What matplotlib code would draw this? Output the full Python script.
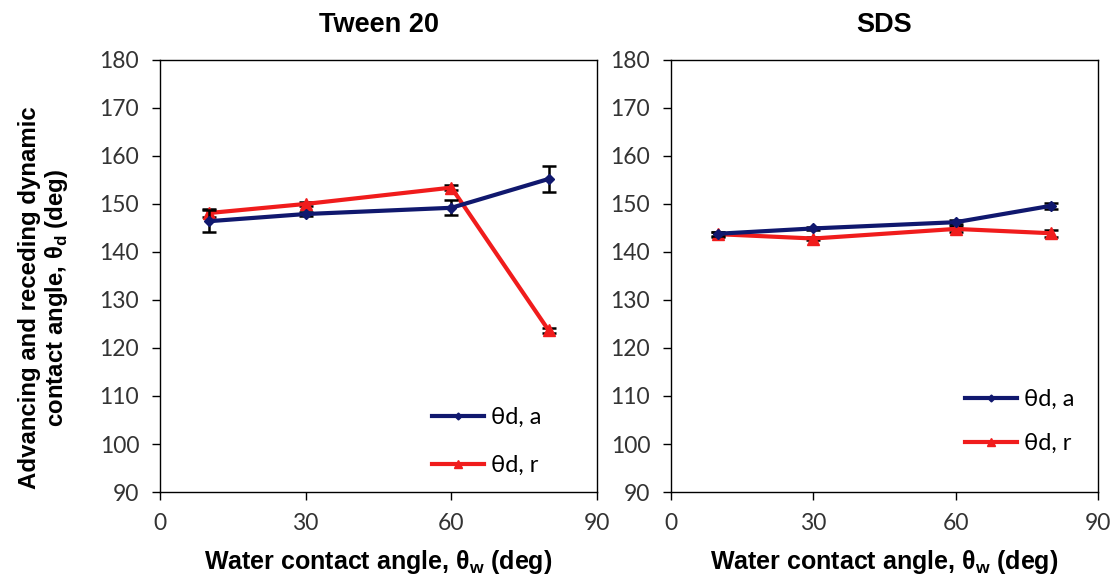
import matplotlib
matplotlib.use("Agg")
import matplotlib.pyplot as plt
from matplotlib.lines import Line2D

# Water contact angle of the surfaces (deg)
water_angle = [10, 30, 60, 80]

# Tween 20: advancing / receding dynamic contact angles and their errors
tween_adv = [146.4, 147.9, 149.2, 155.2]
tween_adv_err = [2.3, 0.5, 1.6, 2.8]
tween_rec = [148.1, 150.0, 153.4, 123.7]
tween_rec_err = [0.9, 0.4, 0.5, 0.5]

# SDS: advancing / receding dynamic contact angles and their errors
sds_adv = [143.8, 144.9, 146.2, 149.6]
sds_adv_err = [0.4, 0.3, 0.4, 0.6]
sds_rec = [143.7, 142.8, 144.8, 143.9]
sds_rec_err = [0.5, 0.4, 0.7, 0.7]

panel_titles = ["Tween 20", "SDS"]
series_labels = ["θd, a", "θd, r"]
x_ticks = [0, 30, 60, 90]
y_ticks = list(range(90, 181, 10))

navy = "#10186e"
red = "#f01c1c"
tick_font = ["Lato", "DejaVu Sans"]
label_font = ["Liberation Sans", "DejaVu Sans"]

fig = plt.figure(figsize=(11.18, 5.8), dpi=100)
ax_l = fig.add_axes([0.1431, 0.1517, 0.391, 0.745])
ax_r = fig.add_axes([0.6002, 0.1517, 0.382, 0.745])

panels = [
    (ax_l, tween_adv, tween_adv_err, tween_rec, tween_rec_err, (0.3864, 0.2983), 1.15),
    (ax_r, sds_adv, sds_adv_err, sds_rec, sds_rec_err, (0.8631, 0.3293), 0.97),
]

for i, (ax, adv, adv_e, rec, rec_e, leg_pos, leg_gap) in enumerate(panels):
    ax.errorbar(water_angle, adv, yerr=adv_e, color=navy, ecolor="black",
                elinewidth=1.8, capsize=5, capthick=1.8, lw=3,
                marker="D", ms=5, zorder=3)
    ax.errorbar(water_angle, rec, yerr=rec_e, color=red, ecolor="black",
                elinewidth=1.8, capsize=5, capthick=1.8, lw=3,
                marker="^", ms=8, zorder=2)
    ax.set_xlim(0, 90)
    ax.set_ylim(90, 180)
    ax.set_xticks(x_ticks)
    ax.set_yticks(y_ticks)
    ax.tick_params(direction="out", length=6, width=1, labelsize=16.5,
                   colors="black", pad=9)
    for lab in ax.get_xticklabels() + ax.get_yticklabels():
        lab.set_family(tick_font)
        lab.set_color("#333333")
    for sp in ax.spines.values():
        sp.set_linewidth(1)
        sp.set_color("black")
    ax.set_title(panel_titles[i], fontsize=19.5, fontweight="bold",
                 family=label_font, pad=20)
    ax.set_xlabel("Water contact angle, θ$_\\mathregular{w}$ (deg)",
                  fontsize=18, fontweight="bold", family=label_font, labelpad=10)
    handles = [
        Line2D([], [], color=navy, lw=3, marker="D", ms=3.5),
        Line2D([], [], color=red, lw=3, marker="^", ms=6),
    ]
    fig.legend(handles, series_labels, loc="upper left",
               bbox_to_anchor=leg_pos, bbox_transform=fig.transFigure,
               frameon=False, prop={"family": tick_font, "size": 17},
               labelspacing=leg_gap, handlelength=2.2, handletextpad=0.3,
               borderpad=0, borderaxespad=0)

ax_l.set_ylabel("Advancing and receding dynamic\ncontact angle, θ$_\\mathregular{d}$ (deg)",
                fontsize=17.3, fontweight="bold", family=label_font,
                linespacing=1.1)
ax_l.yaxis.set_label_coords(-0.205, 0.45)

fig.savefig("out.png", dpi=100, facecolor="white")
